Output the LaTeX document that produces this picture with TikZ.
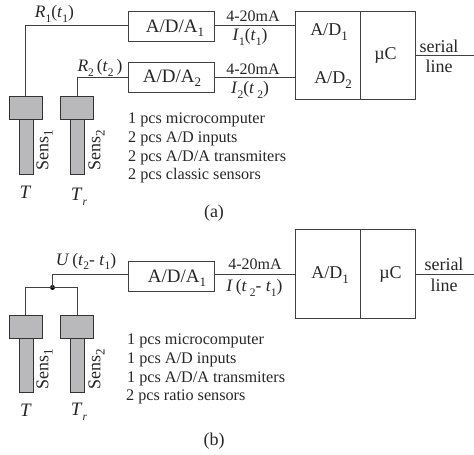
\documentclass[tikz,border=0pt]{standalone}
\usepackage{fontspec}
\setmainfont{Liberation Serif}
\newcommand\sbs[1]{\raisebox{-0.55ex}{\fontsize{11.5}{11.5}\selectfont #1}}
\newcommand\sbb[1]{\raisebox{-0.5ex}{\fontsize{13}{13}\selectfont #1}}
\newcommand\vr[1]{\textit{#1}}
\definecolor{ln}{gray}{0.25}
\definecolor{fl}{HTML}{B9B9BC}
\tikzset{
  lab/.style={inner sep=0pt,font=\fontsize{16}{16}\selectfont,text=black!85},
  labm/.style={inner sep=0pt,font=\fontsize{17.5}{17.5}\selectfont,text=black!85},
  labb/.style={inner sep=0pt,font=\fontsize{18}{18}\selectfont,text=black!85},
  labx/.style={inner sep=0pt,font=\fontsize{19}{19}\selectfont,text=black!85},
  listlab/.style={inner sep=0pt,font=\fontsize{16.2}{16.2}\selectfont,text=black!85,anchor=west},
  sid/.style={labb,rotate=90},
  wire/.style={draw=ln,line width=0.9pt},
  boxn/.style={draw=ln,line width=1pt,inner sep=0pt,minimum width=#1,minimum height=29.5pt},
  bigbox/.style={draw=ln,line width=1pt,inner sep=0pt,minimum width=#1,minimum height=88.5pt},
  head/.style={draw=black!80,fill=fl,line width=0.9pt,inner sep=0pt,minimum width=33pt,minimum height=23pt},
  stem/.style={draw=black!80,fill=fl,line width=0.9pt,inner sep=0pt,minimum width=14pt,minimum height=55pt},
  dotn/.style={circle,fill=black,inner sep=0pt,minimum size=5pt}
}
\begin{document}
\begin{tikzpicture}[x=1pt,y=-1pt]
\useasboundingbox (0,0) rectangle (474,455);
% ---- (a)
\node[stem] (sa1s) at (26,146.5) {};
\node[head] (sa1h) at (25.5,107.5) {};
\node[stem] (sa2s) at (77.5,146.5) {};
\node[head] (sa2h) at (77,107.5) {};
\node[boxn=85.5pt] (ada1) at (171.5,26.7) {};
\node[boxn=85.5pt] (ada2) at (171.5,77.3) {};
\node[bigbox=64.5pt] (ad) at (328,55.3) {};
\node[bigbox=55.5pt] (uc) at (388,55.3) {};
\coordinate (ra1) at (129,25);
\coordinate (ra2) at (129,77.5);
\coordinate (ea1) at (214,25);
\coordinate (ea2) at (214,77.5);
\coordinate (enda) at (474,55.5);
\draw[wire] (sa1h.north) |- (ra1);
\draw[wire] (sa2h.north) |- (ra2);
\draw[wire] (ea1) -- (ea1 -| ad.west);
\draw[wire] (ea2) -- (ea2 -| ad.west);
\draw[wire] (uc.east |- enda) -- (enda);
\node[labm] (t1) at (54.5,14) {\vr{R}\sbs{1}(\vr{t}\sbs{1})};
\node[labm] (t2) at (100,68) {\vr{R}\sbs{2}\,(\vr{t}\sbs{2}\,)};
\node[labx] (t3) at (175,28.5) {A/D/A\sbb{1}};
\node[labx] (t4) at (172,78.5) {A/D/A\sbb{2}};
\node[lab] (t5) at (253,16) {4-20mA};
\node[lab] (t6) at (253,69) {4-20mA};
\node[labm] (t7) at (250,37) {\vr{I}\sbs{1}(\vr{t}\sbs{1})};
\node[labm] (t8) at (250,90) {\vr{I}\sbs{2}(\vr{t}\,\sbs{2})};
\node[labb] (t9) at (329,32) {A/D\sbb{1}};
\node[labb] (t10) at (333,80) {A/D\sbb{2}};
\node[labb] (t11) at (385.5,55) {µC};
\node[labb] (t12) at (439,46) {serial};
\node[labb] (t13) at (439,66) {line};
\node[sid] (t14) at (44.5,150) {Sens\sbb{1}};
\node[sid] (t15) at (96.5,150) {Sens\sbb{2}};
\node[labx] (t16) at (25.5,192) {\vr{T}};
\node[labx] (t17) at (79,197) {\vr{T}\sbs{\vr{r}}};
\node[labb] (t18) at (214,213) {(a)};
\node[listlab] (l1) at (128,120) {1 pcs microcomputer};
\node[listlab] (l2) at (128,139) {2 pcs A/D inputs};
\node[listlab] (l3) at (128,157.5) {2 pcs A/D/A transmiters};
\node[listlab] (l4) at (128,176) {2 pcs classic sensors};
% ---- (b)
\node[stem] (sb1s) at (26,365) {};
\node[head] (sb1h) at (25.5,326.5) {};
\node[stem] (sb2s) at (77.5,365) {};
\node[head] (sb2h) at (77,326.5) {};
\node[boxn=85.5pt] (adb) at (171.5,276.3) {};
\node[bigbox=64.5pt] (bd) at (328,273.8) {};
\node[bigbox=55.5pt] (bc) at (388,273.8) {};
\node[dotn] (jn) at (52.5,287.5) {};
\coordinate (rb) at (129,274.3);
\coordinate (eb) at (214,274.5);
\coordinate (endb) at (474,274.3);
\draw[wire] (sb1h.north) |- (jn.center);
\draw[wire] (sb2h.north) |- (jn.center);
\draw[wire] (jn.center) |- (rb);
\draw[wire] (eb) -- (eb -| bd.west);
\draw[wire] (bc.east |- endb) -- (endb);
\node[labm] (u1) at (86,261.5) {\vr{U}\,(\vr{t}\sbs{2}- \vr{t}\sbs{1})};
\node[labx] (u2) at (177,278) {A/D/A\sbb{1}};
\node[lab] (u3) at (255,264) {4-20mA};
\node[labm] (u4) at (254.5,288) {\vr{I}\,(\vr{t}\,\sbs{2}- \vr{t}\sbs{1})};
\node[labb] (u5) at (330,275) {A/D\sbb{1}};
\node[labb] (u6) at (390.5,274) {µC};
\node[labb] (u7) at (444,264) {serial};
\node[labb] (u8) at (444,285) {line};
\node[sid] (u9) at (44.5,369) {Sens\sbb{1}};
\node[sid] (u10) at (96.5,369) {Sens\sbb{2}};
\node[labx] (u11) at (26,410) {\vr{T}};
\node[labx] (u12) at (79,412) {\vr{T}\sbs{\vr{r}}};
\node[labb] (u13) at (214,441) {(b)};
\node[listlab] (m1) at (127,341) {1 pcs microcomputer};
\node[listlab] (m2) at (127,360) {1 pcs A/D inputs};
\node[listlab] (m3) at (127,378.5) {1 pcs A/D/A transmiters};
\node[listlab] (m4) at (126,396.5) {2 pcs ratio sensors};
\end{tikzpicture}
\end{document}
